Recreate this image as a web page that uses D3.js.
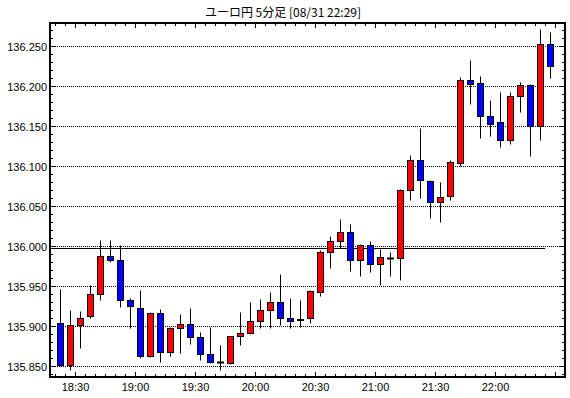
<!DOCTYPE html>
<html><head><meta charset="utf-8">
<script src="https://cdn.jsdelivr.net/npm/d3@7"></script>
<style>body{margin:0;background:#fff}svg{display:block}</style>
</head><body>
<script>
const titleText = "ユーロ円 5分足 [08/31 22:29]";
const times = ["18:20","18:25","18:30","18:35","18:40","18:45","18:50","18:55",
"19:00","19:05","19:10","19:15","19:20","19:25","19:30","19:35","19:40","19:45","19:50","19:55",
"20:00","20:05","20:10","20:15","20:20","20:25","20:30","20:35","20:40","20:45","20:50","20:55",
"21:00","21:05","21:10","21:15","21:20","21:25","21:30","21:35","21:40","21:45","21:50","21:55",
"22:00","22:05","22:10","22:15","22:20","22:25"];
const open  = [135.904,135.851,135.901,135.912,135.940,135.987,135.982,135.933,
135.922,135.862,135.916,135.868,135.897,135.903,135.886,135.865,135.855,135.854,135.887,135.891,
135.906,135.920,135.930,135.910,135.907,135.910,135.943,135.992,136.006,136.017,135.983,136.001,
135.978,135.985,135.985,136.070,136.108,136.081,136.055,136.062,136.104,136.207,136.204,136.163,
136.155,136.133,136.188,136.201,136.150,136.253];
const high  = [135.946,135.920,135.919,135.951,136.008,136.008,136.001,135.935,
135.945,135.918,135.921,135.899,135.915,135.923,135.892,135.899,135.876,135.888,135.917,135.930,
135.934,135.942,135.965,135.935,135.933,135.945,135.995,136.013,136.034,136.028,136.003,136.006,
135.996,135.993,136.071,136.114,136.148,136.083,136.080,136.108,136.211,136.232,136.213,136.182,
136.192,136.193,136.205,136.202,136.271,136.267];
const low   = [135.850,135.845,135.873,135.910,135.932,135.980,135.924,135.897,
135.860,135.861,135.855,135.862,135.866,135.878,135.857,135.854,135.845,135.853,135.876,135.890,
135.898,135.897,135.901,135.898,135.899,135.904,135.938,135.973,135.998,135.969,135.963,135.968,
135.951,135.962,135.958,136.058,136.060,136.035,136.030,136.058,136.100,136.177,136.135,136.137,
136.124,136.128,136.168,136.113,136.132,136.210];
const close = [135.851,135.901,135.910,135.940,135.987,135.982,135.933,135.925,
135.862,135.916,135.868,135.897,135.903,135.886,135.865,135.855,135.855,135.887,135.891,135.906,
135.920,135.930,135.910,135.906,135.909,135.944,135.992,136.006,136.017,135.983,136.001,135.978,
135.986,135.985,136.070,136.108,136.082,136.055,136.061,136.105,136.208,136.203,136.162,136.153,
136.133,136.188,136.201,136.150,136.253,136.225];
const yTicks = [135.850,135.900,135.950,136.000,136.050,136.100,136.150,136.200,136.250];
const xTickLabels = ["18:30","19:00","19:30","20:00","20:30","21:00","21:30","22:00"];
const refLevel = 135.997;

const W = 570, H = 398;
const L = 50, R = 565, T = 23, B = 377;
const toMin = s => { const [h,m] = s.split(":").map(Number); return h*60+m; };

const x = d3.scaleLinear().domain([toMin("18:17")+0.25, toMin("22:34")+0.75]).range([L, R]);
const y = d3.scaleLinear().domain([135.85, 136.25]).range([366.5, 46.5]);
const py = v => Math.round(y(v) - 0.5) + 0.5;

const svg = d3.select("body").append("svg").attr("width", W).attr("height", H);

// title
svg.append("text").attr("x", 283).attr("y", 17).attr("text-anchor", "middle")
  .style("font-family", "'Noto Sans CJK JP', sans-serif").style("font-size", "12px")
  .text(titleText);

// gridlines
svg.append("g").selectAll("line").data(yTicks).join("line")
  .attr("x1", L+1).attr("x2", R-1).attr("y1", d => py(d)).attr("y2", d => py(d))
  .attr("stroke", "#000").attr("stroke-width", 1).attr("stroke-dasharray", "1,1");

// y labels
svg.append("g").selectAll("text").data(yTicks).join("text")
  .attr("x", 47).attr("y", d => py(d) + 4).attr("text-anchor", "end")
  .style("font-family", "'Liberation Sans', Arial, sans-serif").style("font-size", "11px")
  .text(d => d3.format(".3f")(d));

// y minor ticks (every 0.01), both sides inward
const yMinor = d3.range(135.84, 136.281, 0.01).map(v => +v.toFixed(2)).filter(v => y(v) > T+1 && y(v) < B-1);
const tg = svg.append("g").attr("stroke", "#000").attr("stroke-width", 1);
yMinor.forEach(v => {
  const isMaj = Math.abs(v*100 % 5) < 1e-6 || Math.abs(v*100 % 5 - 5) < 1e-6;
  const len = isMaj ? 5 : 3;
  tg.append("line").attr("x1", L).attr("x2", L+len).attr("y1", py(v)).attr("y2", py(v));
  tg.append("line").attr("x1", R-len).attr("x2", R).attr("y1", py(v)).attr("y2", py(v));
});

// x ticks every 5 min, major every 30 min
const xt = d3.range(toMin("18:20"), toMin("22:30")+1, 5);
xt.forEach(m => {
  const maj = m % 30 === 0;
  const len = maj ? 5 : 3;
  const xx = Math.round(x(m) - 0.5) + 0.5;
  tg.append("line").attr("x1", xx).attr("x2", xx).attr("y1", B).attr("y2", B-len);
  tg.append("line").attr("x1", xx).attr("x2", xx).attr("y1", T).attr("y2", T+len);
});

// x labels
svg.append("g").selectAll("text").data(xTickLabels).join("text")
  .attr("x", d => x(toMin(d))).attr("y", 391).attr("text-anchor", "middle")
  .style("font-family", "'Liberation Sans', Arial, sans-serif").style("font-size", "11px")
  .text(d => d);

// reference line
svg.append("line").attr("x1", L+1).attr("x2", 545).attr("y1", py(refLevel)).attr("y2", py(refLevel))
  .attr("stroke", "#000").attr("stroke-width", 1);

// candles
const data = times.map((t,i) => ({t, o: open[i], h: high[i], l: low[i], c: close[i]}));
const cg = svg.append("g");
data.forEach(d => {
  const cx = Math.round(x(toMin(d.t) + 2.5) - 0.5) + 0.5;
  cg.append("line").attr("x1", cx).attr("x2", cx).attr("y1", py(d.h)).attr("y2", py(d.l))
    .attr("stroke", "#000").attr("stroke-width", 1);
  const yo = py(d.o), yc = py(d.c);
  if (Math.abs(yo - yc) < 1) {
    cg.append("line").attr("x1", cx-3.5).attr("x2", cx+3.5).attr("y1", yo).attr("y2", yo)
      .attr("stroke", "#000").attr("stroke-width", 2);
  } else {
    cg.append("rect").attr("x", cx-3).attr("width", 6)
      .attr("y", Math.min(yo, yc)).attr("height", Math.abs(yo - yc))
      .attr("fill", d.c > d.o ? "#ff0000" : "#0000ff")
      .attr("stroke", "#000").attr("stroke-width", 1);
  }
});

// frame
svg.append("rect").attr("x", L).attr("y", T).attr("width", R-L).attr("height", B-T)
  .attr("fill", "none").attr("stroke", "#000").attr("stroke-width", 2);
</script>
</body></html>
